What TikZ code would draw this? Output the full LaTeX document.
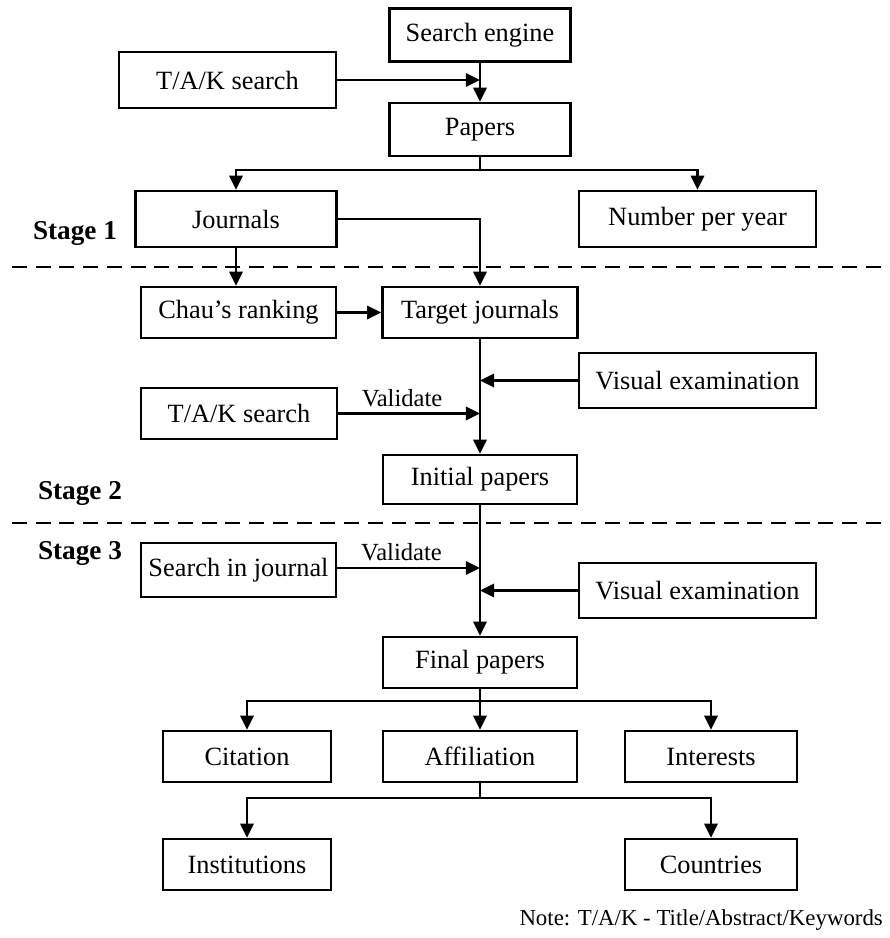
\documentclass[tikz,border=0pt]{standalone}
\usepackage{fontspec}
\setmainfont{Liberation Serif}
\usetikzlibrary{arrows.meta}
\usetikzlibrary{calc}

\tikzset{
  box/.style={draw, line width=1.5pt, inner sep=0pt,
    font=\fontsize{15}{18}\selectfont},
  link/.style={line width=1.4pt},
  flow/.style={link, -{Triangle[length=8pt,width=7.5pt]}},
  stagesep/.style={line width=1.3pt, dash pattern=on 8.5pt off 5pt},
  stagelabel/.style={font=\fontsize{15.5}{18}\selectfont\bfseries},
}

\begin{document}
\begin{tikzpicture}[x=0.02cm, y=-0.02cm]
\useasboundingbox (0,0) rectangle (890,938);

% stage 1
\node[box, minimum width=3.62cm, minimum height=1.06cm] (se) at (480,35) {Search engine};
\node[box, minimum width=4.34cm, minimum height=1.12cm] (tak1) at (227.5,80) {T/A/K search};
\node[box, minimum width=3.62cm, minimum height=1.06cm] (papers) at (480,129.5) {Papers};
\node[box, minimum width=4.02cm, minimum height=1.12cm] (journals) at (236,219) {Journals};
\node[box, minimum width=4.74cm, minimum height=1.12cm] (npy) at (697.5,219) {Number per year};
\node[stagelabel] (s1) at (75,233) {Stage 1};

% stage 2
\node[box, minimum width=3.90cm, minimum height=1.02cm] (chau) at (238.5,312.5) {Chau's ranking};
\node[box, minimum width=3.90cm, minimum height=1.02cm] (target) at (480,312.5) {Target journals};
\node[box, minimum width=4.74cm, minimum height=1.10cm] (vis1) at (697.5,380.5) {Visual examination};
\node[box, minimum width=3.92cm, minimum height=1.02cm] (tak2) at (239,413.5) {T/A/K search};
\node[box, minimum width=3.88cm, minimum height=0.98cm] (initial) at (480,479.5) {Initial papers};
\node[stagelabel] (s2) at (80,493) {Stage 2};

% stage 3
\node[stagelabel] (s3) at (80,553) {Stage 3};
\node[box, minimum width=3.90cm, minimum height=1.08cm] (sij) at (238.5,570) {Search in journal};
\node[box, minimum width=4.74cm, minimum height=1.10cm] (vis2) at (697.5,590.5) {Visual examination};
\node[box, minimum width=3.88cm, minimum height=1.02cm] (final) at (480,662.5) {Final papers};
\node[box, minimum width=3.36cm, minimum height=1.02cm] (citation) at (247,756.5) {Citation};
\node[box, minimum width=3.88cm, minimum height=1.02cm] (affil) at (480,756.5) {Affiliation};
\node[box, minimum width=3.44cm, minimum height=1.02cm] (interests) at (711,756.5) {Interests};
\node[box, minimum width=3.36cm, minimum height=1.02cm] (inst) at (247,864.5) {Institutions};
\node[box, minimum width=3.44cm, minimum height=1.02cm] (countries) at (711,864.5) {Countries};

\node[anchor=east, font=\fontsize{13}{15}\selectfont] (note) at (889,920)
  {Note: T/A/K - Title/Abstract/Keywords};

\coordinate (split1) at (480,170);
\coordinate (split2) at (480,701);
\coordinate (split3) at (480,798);

\draw [stagesep] (12,267) -- (890,267);
\draw [stagesep] (12,523) -- (890,523);

\draw [flow] (se) -- (papers);
\draw [flow] (tak1.east) -- (tak1.east -| se.south);
\draw [link] (papers.south) -- (split1);
\draw [flow] (split1) -| (journals.north);
\draw [flow] (split1) -| (npy.north);
\draw [flow] (journals.east) -| (target.north);
\draw [flow] (journals.south) -- (journals.south |- chau.north);
\draw [flow] (chau) -- (target);
\draw [flow] (target) -- (initial);
\draw [flow] (vis1.west) -- (vis1.west -| target.south);
\draw [flow] (tak2.east) -- (tak2.east -| target.south)
  node[pos=0.45, above, font=\fontsize{14}{16}\selectfont] (val1) {Validate};
\draw [flow] (initial) -- (final);
\draw [flow] (sij.east) ++(0,-2) coordinate (sijout) -- (sijout -| initial.south)
  node[pos=0.45, above, font=\fontsize{14}{16}\selectfont] (val2) {Validate};
\draw [flow] (vis2.west) -- (vis2.west -| initial.south);
\draw [link] (final.south) -- (split2);
\draw [flow] (split2) -| (citation.north);
\draw [flow] (split2) -- (affil.north);
\draw [flow] (split2) -| (interests.north);
\draw [link] (affil.south) -- (split3);
\draw [flow] (split3) -| (inst.north);
\draw [flow] (split3) -| (countries.north);
\end{tikzpicture}
\end{document}
